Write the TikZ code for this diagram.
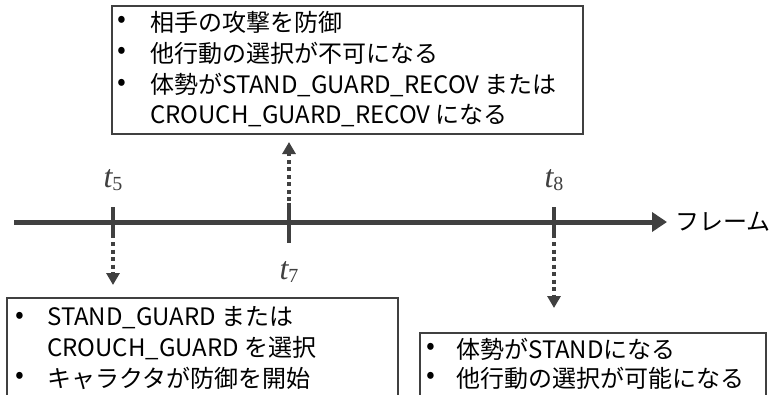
\documentclass[tikz,border=0pt]{standalone}
\usepackage{fontspec}
\setmainfont{Noto Sans CJK JP}
\newfontfamily\tfont{Liberation Serif}
\usetikzlibrary{arrows.meta}
\definecolor{ink}{HTML}{404040}
\newcommand{\tsub}[1]{{\tfont\fontsize{32}{36}\selectfont\itshape t\upshape\raisebox{-0.25ex}{\fontsize{20}{22}\selectfont #1}}}
\begin{document}
\begin{tikzpicture}[x=1pt,y=-1pt,
  timeline/.style={line width=5pt, draw=ink, -{Triangle[length=15pt,width=19pt]}},
  tickmark/.style={line width=4pt, draw=ink},
  dasharrow/.style={line width=4pt, draw=ink, dash pattern=on 4pt off 3.5pt, -{Triangle[length=12pt,width=13pt]}},
  box/.style={draw=ink, line width=2.5pt, fill=white},
  txt/.style={anchor=west, inner sep=0pt, font=\fontsize{24}{28}\selectfont, text=black},
  bul/.style={anchor=center, inner sep=0pt, font=\fontsize{26}{30}\selectfont, text=black},
  tlabel/.style={anchor=center, inner sep=0pt, text=ink},
]
\useasboundingbox (0,0) rectangle (773,394);
\clip (0,0) rectangle (773,394);

% timeline
\coordinate (start) at (14,222);
\coordinate (end) at (667,222);
\draw[timeline] (start) -- (end);
\node[txt, anchor=west] (frame) at (675,222) {フレーム};

% ticks
\coordinate (t5a) at (113,207); \coordinate (t5b) at (113,238);
\coordinate (t7a) at (289,203); \coordinate (t7b) at (289,243);
\coordinate (t8a) at (554,207); \coordinate (t8b) at (554,238);
\draw[tickmark] (t5a) -- (t5b);
\draw[tickmark] (t7a) -- (t7b);
\draw[tickmark] (t8a) -- (t8b);

\node[tlabel] (l5) at (113,180) {\tsub{5}};
\node[tlabel] (l7) at (289,272) {\tsub{7}};
\node[tlabel] (l8) at (554,180) {\tsub{8}};

% dashed arrows
\coordinate (d5s) at (113,242); \coordinate (d5e) at (113,285);
\coordinate (d7s) at (289,201); \coordinate (d7e) at (289,142);
\coordinate (d8s) at (554,242); \coordinate (d8e) at (554,308);
\draw[dasharrow] (d5s) -- (d5e);
\draw[dasharrow] (d7s) -- (d7e);
\draw[dasharrow] (d8s) -- (d8e);

% top box
\path[box] (112,6) rectangle (583,134);
\node[bul] (tb1) at (122,22) {•};
\node[txt] (tt1) at (150,22) {相手の攻撃を防御};
\node[bul] (tb2) at (122,53) {•};
\node[txt] (tt2) at (150,53) {他行動の選択が不可になる};
\node[bul] (tb3) at (122,85) {•};
\node[txt] (tt3) at (150,85) {体勢がSTAND\_GUARD\_RECOV または};
\node[txt] (tt4) at (150,116) {CROUCH\_GUARD\_RECOV になる};

% bottom left box
\path[box] (7,298) rectangle (398,410);
\node[bul] (lb1) at (20,318) {•};
\node[txt] (lt1) at (47,318) {STAND\_GUARD または};
\node[txt] (lt2) at (47,348) {CROUCH\_GUARD を選択};
\node[bul] (lb2) at (20,378) {•};
\node[txt] (lt3) at (47,378) {キャラクタが防御を開始};

% bottom right box
\path[box] (420,333) rectangle (766,410);
\node[bul] (rb1) at (431,349) {•};
\node[txt] (rt1) at (456,349) {体勢がSTANDになる};
\node[bul] (rb2) at (431,378) {•};
\node[txt] (rt2) at (456,378) {他行動の選択が可能になる};
\end{tikzpicture}
\end{document}
